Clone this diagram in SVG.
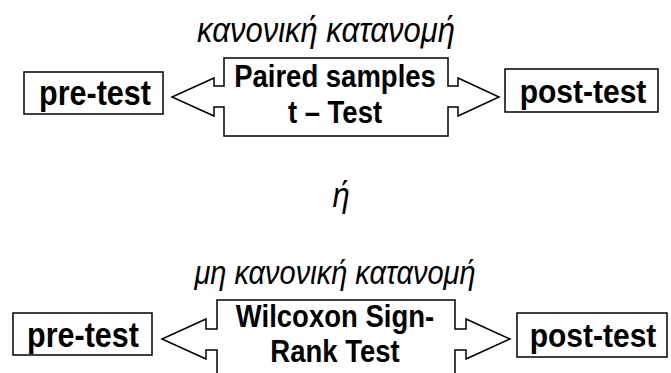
<svg xmlns="http://www.w3.org/2000/svg" width="671" height="373" viewBox="0 0 671 373">
  <style>
    .box { fill: #fff; stroke: #000; stroke-width: 1.5; }
    .arrow { fill: #fff; stroke: #000; stroke-width: 1.5; stroke-linejoin: miter; }
    .lbl { font-family: "Liberation Sans", Arial, sans-serif; font-weight: bold; fill: #000; text-anchor: middle; }
    .cap { font-family: "Liberation Sans", Arial, sans-serif; font-style: italic; fill: #000; text-anchor: middle; }
  </style>
  <rect width="671" height="373" fill="#fff"/>

  <!-- headings (slightly tall lettering) -->
  <text class="cap" transform="translate(326,42) scale(1,1.12)" font-size="31">κανονική κατανομή</text>
  <text class="cap" transform="translate(341,207) scale(1,1.12)" font-size="31">ή</text>
  <text class="cap" transform="translate(335,284) scale(1,1.15)" font-size="29">μη κανονική κατανομή</text>

  <!-- double-headed block arrows -->
  <g id="connectors">
    <path id="arrow-paired" class="arrow" d="M224,58 H448 V86 H458 V78 L499,97 L458,116 V107 H448 V136 H224 V107 H214 V116 L172,97 L214,78 V86 H224 Z"/>
    <path id="arrow-wilcoxon" class="arrow" d="M217,374 V350 H206 V359 L162,339 L206,319 V329 H217 V300 H455 V329 H466 V319 L510,339 L466,359 V350 H455 V374"/>
  </g>

  <g id="test-paired">
    <text class="lbl" transform="translate(335,87) scale(1,1.12)" font-size="27.5">Paired samples</text>
    <text class="lbl" transform="translate(335,123) scale(1,1.12)" font-size="27.5">t – Test</text>
  </g>
  <g id="test-wilcoxon">
    <text class="lbl" transform="translate(335,327) scale(1,1.12)" font-size="27.5">Wilcoxon Sign-</text>
    <text class="lbl" transform="translate(335,362) scale(1,1.12)" font-size="27.5">Rank Test</text>
  </g>

  <g id="pre-test-1">
    <rect class="box" x="24" y="72" width="139" height="42"/>
    <text class="lbl" transform="translate(95,105) scale(1,1.12)" font-size="30.5">pre-test</text>
  </g>
  <g id="post-test-1">
    <rect class="box" x="505" y="69" width="153" height="43"/>
    <text class="lbl" transform="translate(583,103) scale(1,1.12)" font-size="30">post-test</text>
  </g>
  <g id="pre-test-2">
    <rect class="box" x="13" y="313" width="139" height="42"/>
    <text class="lbl" transform="translate(83,347) scale(1,1.12)" font-size="30.5">pre-test</text>
  </g>
  <g id="post-test-2">
    <rect class="box" x="517" y="313" width="150" height="44"/>
    <text class="lbl" transform="translate(593,347) scale(1,1.12)" font-size="30">post-test</text>
  </g>
</svg>
